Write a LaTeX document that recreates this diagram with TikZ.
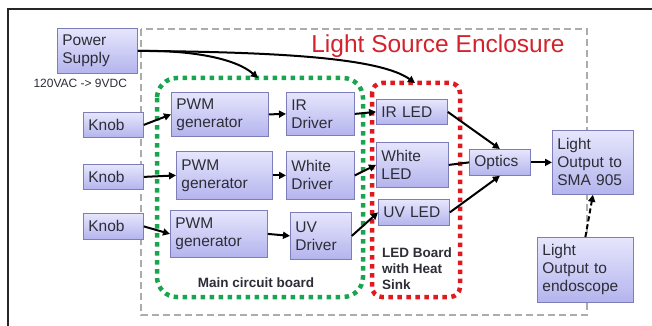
\documentclass[tikz,border=0pt]{standalone}
\usepackage{fontspec}
\setmainfont{Liberation Sans}
\usetikzlibrary{arrows.meta}

\definecolor{boxtop}{RGB}{230,230,253}
\definecolor{boxbot}{RGB}{180,180,238}
\definecolor{boxline}{RGB}{125,125,185}
\definecolor{boxtext}{RGB}{45,45,55}
\definecolor{encred}{RGB}{210,35,45}
\definecolor{boardgreen}{RGB}{25,165,80}
\definecolor{ledred}{RGB}{225,25,30}

\begin{document}
\begin{tikzpicture}[x=1pt, y=-1pt,
    blk/.style={draw=boxline, line width=0.8pt, top color=boxtop, bottom color=boxbot,
        text=boxtext, font=\fontsize{15.5}{18}\selectfont, align=left,
        inner xsep=5pt, inner ysep=2pt, anchor=north west},
    arr/.style={-{Triangle[length=7pt,width=7pt]}, line width=2pt, black},
    board/.style={line width=4.5pt, dash pattern=on 4.5pt off 4.5pt, rounded corners=20pt},
    tag/.style={text=boxtext, font=\bfseries\fontsize{13.5}{16}\selectfont, align=left}]
    \useasboundingbox (0,0) rectangle (652,326);

    % Draw outer frame (cut at right and bottom)
    \draw[line width=2pt, black!85] (8,326) -- (8,9) -- (652,9);

    % Light source enclosure (grey dashed)
    \draw[gray!65, line width=1.5pt, dash pattern=on 7pt off 4pt] (141,29) rectangle (587,315);
    \node[text=encred, font=\fontsize{24.5}{28}\selectfont, anchor=base] (title) at (438,53) {Light Source Enclosure};

    % Main circuit board (green) and LED board (red)
    \draw[board, boardgreen] (157,78) rectangle (363,297);
    \draw[board, ledred, rounded corners=10pt] (372,83) rectangle (460,297);
    \node[tag, anchor=base] (mcb) at (256,287) {Main circuit board};
    \node[tag, anchor=base west, inner xsep=0pt] (ledb) at (382,289) {LED Board\\with Heat\\Sink};

    % Power supply
    \node[blk, minimum width=80pt, minimum height=45pt, text width=70pt] (ps) at (57,28) {Power\\Supply};
    \node[text=boxtext, font=\fontsize{12}{14}\selectfont, anchor=base west] (volt) at (30,88) {120VAC -> 9VDC};

    % Knobs
    \node[blk, minimum width=60pt, minimum height=25pt, text width=50pt] (k1) at (83,112) {Knob};
    \node[blk, minimum width=60pt, minimum height=25pt, text width=50pt] (k2) at (83,164) {Knob};
    \node[blk, minimum width=60pt, minimum height=26pt, text width=50pt] (k3) at (83,213) {Knob};

    % PWM generators
    \node[blk, minimum width=97pt, minimum height=44pt, text width=87pt] (p1) at (171,92) {PWM\\generator};
    \node[blk, minimum width=96pt, minimum height=48pt, text width=86pt] (p2) at (176,151) {PWM\\generator};
    \node[blk, minimum width=97pt, minimum height=47pt, text width=87pt] (p3) at (170,210) {PWM\\generator};

    % Drivers
    \node[blk, minimum width=68pt, minimum height=43pt, text width=58pt] (d1) at (286,92) {IR\\Driver};
    \node[blk, minimum width=68pt, minimum height=48pt, text width=58pt] (d2) at (286,151) {White\\Driver};
    \node[blk, minimum width=61pt, minimum height=47pt, text width=51pt] (d3) at (290,212) {UV\\Driver};

    % LEDs
    \node[blk, minimum width=71pt, minimum height=25pt, text width=61pt] (l1) at (376,99) {IR LED};
    \node[blk, minimum width=72pt, minimum height=45pt, text width=62pt] (l2) at (376,142) {White\\LED};
    \node[blk, minimum width=71pt, minimum height=26pt, text width=61pt] (l3) at (378,199) {UV LED};

    % Optics and outputs
    \node[blk, minimum width=61pt, minimum height=26pt, text width=51pt] (opt) at (469,149) {Optics};
    \node[blk, minimum width=81pt, minimum height=64pt, text width=71pt] (sma) at (552,130) {Light\\Output to\\SMA 905};
    \node[blk, minimum width=96pt, minimum height=65pt, text width=86pt] (endo) at (537,237) {Light\\Output to\\endoscope};

    % Power feeds
    \coordinate (gtop) at (258,78);
    \coordinate (rtop) at (415,83);
    \draw[arr] (ps.east) .. controls (190,50) and (235,58) .. (gtop);
    \draw[arr] (ps.east) .. controls (280,52) and (380,58) .. (rtop);

    % Signal chain
    \draw[arr] (k1.east) -- (p1.west);
    \draw[arr] (k2.east) -- (p2.west);
    \draw[arr] (k3.east) -- (p3.west);
    \draw[arr] (p1.east) -- (d1.west);
    \draw[arr] (p2.east) -- (d2.west);
    \draw[arr] (p3.east) -- (d3.west);
    \draw[arr] (d1.east) -- (l1.west);
    \draw[arr] (d2.east) -- (l2.west);
    \draw[arr] (d3.east) -- (l3.west);
    \draw[arr] (l1.east) -- (opt.north);
    \draw[line width=2pt] (l2.east) -- (opt.west);
    \draw[arr] (l3.east) -- (opt.south);
    \draw[arr] (opt.east) -- (sma.west);
    \draw[arr, dash pattern=on 5pt off 3pt] (endo.north) -- (sma.south);
\end{tikzpicture}
\end{document}
